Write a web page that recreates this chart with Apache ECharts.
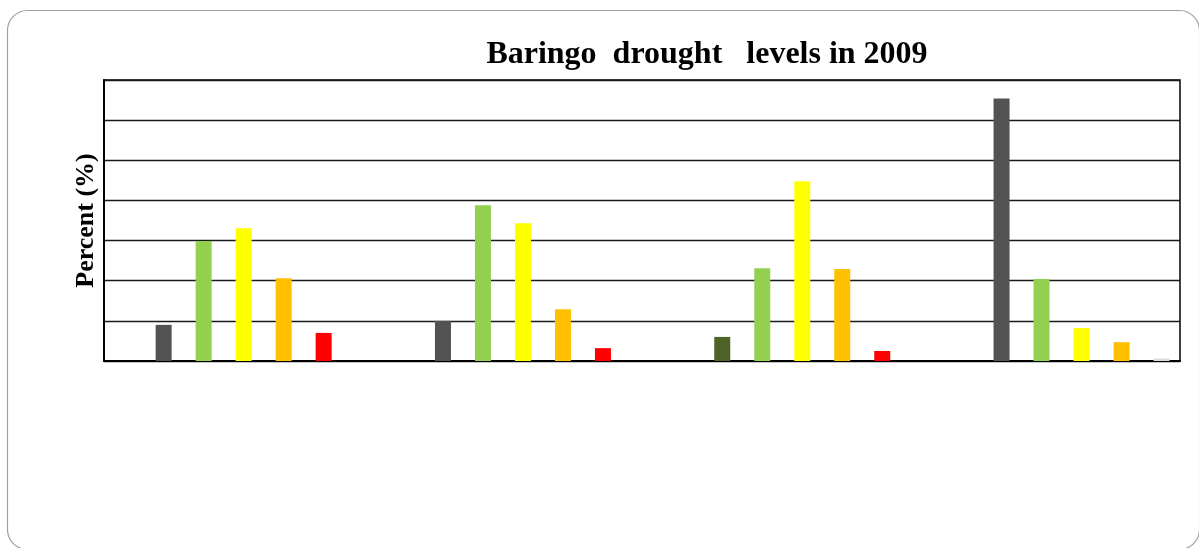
<!DOCTYPE html>
<html>
<head>
<meta charset="utf-8">
<script src="https://cdn.jsdelivr.net/npm/echarts@6/dist/echarts.min.js"></script>
<style>
html,body{margin:0;padding:0;background:#fff;}
#chart{width:1199px;height:548px;}
</style>
</head>
<body>
<div id="chart"></div>
<script>
// Data (unlabelled groups in the original)
var categories = [0, 1, 2, 3];
var seriesNames = ['Level 1', 'Level 2', 'Level 3', 'Level 4', 'Level 5'];
var level1 = [9.0, 10.0, 6.0, 65.4];
var level2 = [29.9, 38.8, 23.1, 20.4];
var level3 = [33.1, 34.3, 44.8, 8.2];
var level4 = [20.6, 12.9, 22.9, 4.7];
var level5 = [7.0, 3.2, 2.5, 0.6];
var yTicks = [0, 10, 20, 30, 40, 50, 60, 70];

var seriesColors = [
  ['#525252', '#525252', '#4F6228', '#525252'],
  ['#92D050', '#92D050', '#92D050', '#92D050'],
  ['#FFFF00', '#FFFF00', '#FFFF00', '#FFFF00'],
  ['#FFC000', '#FFC000', '#FFC000', '#FFC000'],
  ['#FF0000', '#FF0000', '#FF0000', '#D9D9D9']
];
var allValues = [level1, level2, level3, level4, level5];

var chart = echarts.init(document.getElementById('chart'));
var series = allValues.map(function (vals, si) {
  return {
    name: seriesNames[si],
    type: 'bar',
    barWidth: 16,
    barGap: '150%',
    data: vals.map(function (v, i) {
      return { value: [categories[i], v], itemStyle: { color: seriesColors[si][i] } };
    })
  };
});

var unitPx = 279.3;
chart.setOption({
  animation: false,
  backgroundColor: '#ffffff',
  title: {
    text: 'Baringo  drought   levels in 2009',
    left: 702, top: 34, textAlign: 'center',
    textStyle: { fontFamily: 'Liberation Serif', fontWeight: 'bold', fontSize: 32, color: '#000' }
  },
  graphic: [{
    type: 'rect', z: -10,
    shape: { x: 7.5, y: 10.5, width: 1192, height: 539, r: 20 },
    style: { fill: 'none', stroke: '#a0a0a0', lineWidth: 1.2 }
  }],
  grid: {
    left: 104, top: 80, width: 1076, height: 281,
    show: true, borderColor: '#000', borderWidth: 1.5, backgroundColor: 'transparent'
  },
  xAxis: {
    type: 'value',
    min: -0.5,
    max: -0.5 + 1076 / unitPx,
    axisLine: { show: true, onZero: false, lineStyle: { color: '#000', width: 2 } },
    axisTick: { show: false },
    axisLabel: { show: false },
    splitLine: { show: false }
  },
  yAxis: {
    type: 'value',
    min: yTicks[0], max: yTicks[yTicks.length - 1], interval: 10,
    name: 'Percent (%)',
    nameLocation: 'middle',
    nameGap: 5,
    nameTextStyle: { fontFamily: 'Liberation Serif', fontWeight: 'bold', fontSize: 26, color: '#000' },
    axisLine: { show: true, onZero: false, lineStyle: { color: '#000', width: 2 } },
    axisTick: { show: false },
    axisLabel: { show: false },
    splitLine: { show: true, lineStyle: { color: '#1a1a1a', width: 1.3 } }
  },
  series: series
});
</script>
</body>
</html>
